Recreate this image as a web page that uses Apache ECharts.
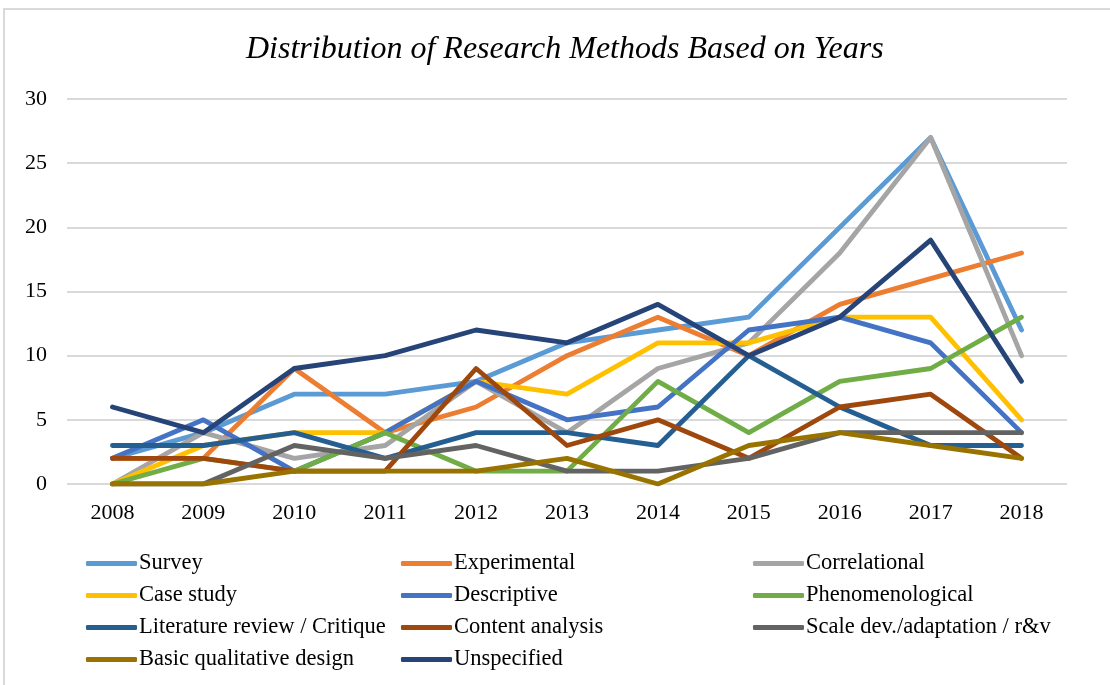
<!DOCTYPE html>
<html>
<head>
<meta charset="utf-8">
<script src="https://cdn.jsdelivr.net/npm/echarts@6/dist/echarts.min.js"></script>
<style>
  html, body { margin: 0; padding: 0; background: #fff; }
  #main { width: 1110px; height: 685px; }
</style>
</head>
<body>
<div id="main"></div>
<script>
// years on the x axis
const years = ['2008', '2009', '2010', '2011', '2012', '2013', '2014', '2015', '2016', '2017', '2018']

// counts per method
const survey = [2, 4, 7, 7, 8, 11, 12, 13, 20, 27, 12]
const experimental = [2, 2, 9, 4, 6, 10, 13, 10, 14, 16, 18]
const correlational = [0, 4, 2, 3, 8, 4, 9, 11, 18, 27, 10]
const caseStudy = [0, 3, 4, 4, 8, 7, 11, 11, 13, 13, 5]
const descriptive = [2, 5, 1, 4, 8, 5, 6, 12, 13, 11, 4]
const phenomenological = [0, 2, 1, 4, 1, 1, 8, 4, 8, 9, 13]
const literatureReview = [3, 3, 4, 2, 4, 4, 3, 10, 6, 3, 3]
const contentAnalysis = [2, 2, 1, 1, 9, 3, 5, 2, 6, 7, 2]
const scaleDev = [0, 0, 3, 2, 3, 1, 1, 2, 4, 4, 4]
const basicQualitative = [0, 0, 1, 1, 1, 2, 0, 3, 4, 3, 2]
const unspecified = [6, 4, 9, 10, 12, 11, 14, 10, 13, 19, 8]

const names = ['Survey', 'Experimental', 'Correlational', 'Case study', 'Descriptive', 'Phenomenological',
  'Literature review / Critique', 'Content analysis', 'Scale dev./adaptation / r&v', 'Basic qualitative design', 'Unspecified']
const values = [survey, experimental, correlational, caseStudy, descriptive, phenomenological,
  literatureReview, contentAnalysis, scaleDev, basicQualitative, unspecified]
const colors = ['#5B9BD5', '#ED7D31', '#A5A5A5', '#FFC000', '#4472C4', '#70AD47',
  '#255E91', '#9E480E', '#636363', '#997300', '#264478']

const font = "'Liberation Serif', 'Times New Roman', serif"

let series = names.map((n, i) => ({
  name: n,
  type: 'line',
  data: values[i],
  symbol: 'none',
  smooth: false,
  color: colors[i],
  lineStyle: { width: 4.8, color: colors[i], cap: 'round', join: 'round' }
}))

// legend in three columns, like the original
function legendCol(left, items) {
  return {
    orient: 'vertical',
    left: left,
    top: 547,
    icon: 'roundRect',
    itemWidth: 51,
    itemHeight: 5,
    itemGap: 9,
    data: items,
    textStyle: { fontFamily: font, fontSize: 22.5, color: '#000', lineHeight: 21, padding: [0, 0, 0, -3] },
    selectedMode: false
  }
}

let myChart = echarts.init(document.getElementById('main'), null, { renderer: 'canvas' })
let option = {
  backgroundColor: '#fff',
  animation: false,
  title: {
    text: 'Distribution of Research Methods Based on Years',
    left: 241,
    top: 29,
    textStyle: { fontFamily: font, fontSize: 32, fontStyle: 'italic', fontWeight: 'normal', color: '#000' }
  },
  graphic: [{
    type: 'rect',
    shape: { x: 4, y: 9, width: 1120, height: 700 },
    style: { fill: 'none', stroke: '#D9D9D9', lineWidth: 2 },
    silent: true
  }],
  legend: [
    legendCol(81, [names[0], names[3], names[6], names[9]]),
    legendCol(396, [names[1], names[4], names[7], names[10]]),
    legendCol(748, [names[2], names[5], names[8]])
  ],
  grid: { left: 67, right: 43, top: 99, bottom: 201, containLabel: false },
  xAxis: {
    type: 'category',
    data: years,
    boundaryGap: true,
    axisLine: { show: false },
    axisTick: { show: false },
    axisLabel: { fontFamily: font, fontSize: 22, color: '#000', margin: 18 }
  },
  yAxis: {
    type: 'value',
    min: 0,
    max: 30,
    interval: 5,
    axisLine: { show: false },
    axisTick: { show: false },
    axisLabel: { fontFamily: font, fontSize: 22, color: '#000', margin: 20 },
    splitLine: { lineStyle: { color: '#D9D9D9', width: 2 } }
  },
  series: series
}
myChart.setOption(option)
</script>
</body>
</html>
